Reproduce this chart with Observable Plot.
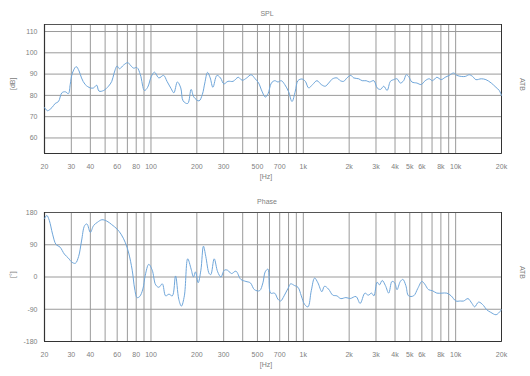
<!DOCTYPE html>
<html><head><meta charset="utf-8">
<script src="https://cdn.jsdelivr.net/npm/d3@7"></script>
<script src="https://cdn.jsdelivr.net/npm/@observablehq/plot@0.6"></script>
<style>
html,body{margin:0;padding:0;background:#fff;}
#chart{width:530px;height:376px;}
#chart svg{display:block;}
</style></head><body><div id="chart"></div>
<script>
const splFreq = [20,20.9,22.4,23.5,24.7,26.0,27.4,28.7,29.5,30.5,32.3,33.7,35,37,40,42,44,45.6,48.9,52.6,55.3,57.3,59.9,62.1,66.2,70.5,73,76.9,80.9,85.2,90.6,95.1,100.5,105.5,112.6,121,127.4,135.5,141.3,149.1,156.9,162.6,174.3,183.5,191.3,206.8,217.5,225.6,235,244.8,255,271,286,301,320,346,374,397,425,454,483,509,535,563,587,617,649,682,717,755,801,843,886,922,980,1031,1084,1151,1229,1311,1393,1467,1558,1663,1750,1840,1935,2050,2143,2311,2434,2586,2719,2907,3054,3210,3375,3548,3730,3921,4122,4334,4556,4739,4910,5162,5563,5939,6311,6706,7049,7526,8035,8538,9072,9698,10195,10885,11566,12290,12920,13580,14730,15800,17130,18390,19340,20000];
const splDb = [74.3,72.8,74.3,76.2,77.1,81.2,81.7,80.8,85.1,90.5,93.5,91.5,88.2,85.1,83.5,83.5,84.8,82,82.3,84.3,86.6,90.5,93.8,92.5,94.3,95.4,94.3,92.8,93.1,89.7,82.3,83.8,88.9,90.9,88.2,89.4,86.6,83.2,81.2,86.3,83.5,77.4,76.2,82.8,79.2,77.4,80.5,85.8,90.8,88.2,83.8,89.4,88.2,85.4,86.6,86.6,88.5,87.1,88.2,89.7,87.8,85.8,82,79.2,80.8,85.8,86.9,86.3,86.9,85.1,81.7,77.1,82,86.9,87.7,86.6,83.5,85.1,86.9,85.1,84.3,85.8,87.8,88.2,86.9,86.6,88.2,89.4,88.2,87.8,86.9,86.9,86.3,86.9,83.5,82.8,84.3,82.3,86.6,87.4,87.8,85.8,86.9,89.7,88.9,86.3,85.8,85.1,86.9,87.8,86.9,88.5,87.4,88.5,89.4,90.5,89.4,88.9,88.9,89.7,88.9,87.4,87.8,87.4,85.8,83.8,82.3,80];
const phaseFreq = [20,20.7,21.5,22.6,23.8,25.3,27,28.7,30.3,31.9,33.5,35,36.7,38,40,42,44.6,47.6,51.3,55.2,59.8,63.6,67.9,71.4,75.3,78.2,81,84.3,88.5,91.7,96.7,101.9,107.4,112.7,118.7,124.8,131.2,138.1,145,152.3,158.4,165.6,174.2,183.5,190,196,204,212.6,221,229,241,247,260,274,288,303,318,338,361,389,420,449,478,516,543,562,586,610,648,682,710,748,794,826,877,923,970,1020,1073,1128,1186,1247,1324,1377,1462,1561,1660,1763,1903,2033,2218,2361,2538,2670,2806,2907,3054,3161,3294,3460,3637,3820,3981,4122,4334,4508,4712,4910,5295,5647,6000,6250,6640,7049,7526,8120,8760,9346,10040,10720,11280,12050,12790,13330,14160,15230,15950,17000,18390,19340,20000];
const phaseDeg = [162.7,172,158,119.6,90.9,83.3,64,52.6,41.2,38.3,57.4,100.5,143.6,148,124.4,143.6,153,159.8,156,146.4,134,119.6,95.7,67,19,-33.5,-57.4,-54.5,-33.5,4.8,35.4,19,-22,-28.7,-19.1,-52.6,-47.9,-52.6,2.9,-62.2,-81.3,-52.6,50.7,22,0,14.4,-16,19,86,57.4,9.6,6.7,50.7,14.4,0,19,19,9.6,16.3,-6.7,-12.4,-16.3,-35.4,-38.3,-16.3,14.4,22,-45,-45,-62.2,-67,-52.6,-31.6,-19.1,-24,-28.7,-52.6,-76.6,-83.3,-38.3,-2.9,-16.3,-41.1,-25.8,-33.5,-50.7,-52.6,-60.3,-57.4,-60,-54.5,-73.7,-45,-50.7,-45,-52.6,-14.4,-22,-9.6,-24,-45,-12.4,-16.3,-35.4,-12.4,-6.7,-24,-52.6,-52.6,-31.6,-12.4,-19.1,-35.4,-38.3,-45,-45,-45,-52.6,-67,-67,-67,-60.3,-73.7,-83.3,-69.9,-79.4,-90.9,-98.6,-105.3,-98.6,-91];
const xTickValues = [20,30,40,60,80,100,200,300,500,700,1000,2000,3000,4000,5000,6000,8000,10000,20000];
const xTickLabels = ["20","30","40","60","80","100","200","300","500","700","1k","2k","3k","4k","5k","6k","8k","10k","20k"];
const splTicks = [60,70,80,90,100,110];
const phaseTicks = [-180,-90,0,90,180];
const splTitle = "SPL", phaseTitle = "Phase";
const splUnit = "[dB]", phaseUnit = "[°]", xUnit = "[Hz]", sideLabel = "ATB";

const gridFreqs = [];
for (const dec of [10,100,1000,10000]) for (let m = 1; m <= 9; m++) { const f = dec*m; if (f > 20 && f < 20000) gridFreqs.push(f); }

const lineColor = "#6fa6da";
const gridColor = "#9a9a9a";
const textColor = "#808080";

function panel({freq, vals, yDomain, yTicks, title, unit}) {
  const data = freq.map((f,i) => ({f, v: vals[i]}));
  return Plot.plot({
    width: 530, height: 188,
    marginTop: 24, marginBottom: 35, marginLeft: 44, marginRight: 29,
    style: {fontFamily: "'Liberation Sans', Arial, sans-serif", fontSize: "7px", background: "white", overflow: "visible"},
    x: {type: "log", domain: [20, 20000], axis: null},
    y: {domain: yDomain, axis: null},
    marks: [
      Plot.ruleX(gridFreqs, {stroke: gridColor, strokeWidth: 1}),
      Plot.ruleY(yTicks, {stroke: gridColor, strokeWidth: 1}),
      Plot.frame({stroke: "#555"}),
      Plot.ruleX([20000], {stroke: "#333", strokeWidth: 1}),
      Plot.ruleX([20], {stroke: "#333", strokeWidth: 1.2}),
      Plot.ruleY([yDomain[0]], {stroke: "#333", strokeWidth: 1}),
      Plot.line(data, {x: "f", y: "v", stroke: lineColor, strokeWidth: 1, curve: "catmull-rom"}),
      Plot.text(xTickValues, {x: d => d, text: (d,i) => xTickLabels[i], frameAnchor: "bottom", dy: 15, fill: textColor}),
      Plot.text(yTicks, {y: d => d, text: d => String(d), frameAnchor: "left", dx: -7, textAnchor: "end", fill: textColor}),
      Plot.text([title], {frameAnchor: "top", dy: -13, dx: -6, fill: textColor}),
      Plot.text([xUnit], {frameAnchor: "bottom", dy: 25, dx: -7, fill: textColor}),
      Plot.text([unit], {frameAnchor: "left", dx: -32, dy: 1, rotate: -90, fill: textColor}),
      Plot.text([sideLabel], {frameAnchor: "right", dx: 21, dy: 2, rotate: 90, fill: textColor})
    ]
  });
}

const root = document.getElementById("chart");
root.append(panel({freq: splFreq, vals: splDb, yDomain: [52.7, 113.3], yTicks: splTicks, title: splTitle, unit: splUnit}));
root.append(panel({freq: phaseFreq, vals: phaseDeg, yDomain: [-180, 180], yTicks: phaseTicks, title: phaseTitle, unit: phaseUnit}));
</script></body></html>
